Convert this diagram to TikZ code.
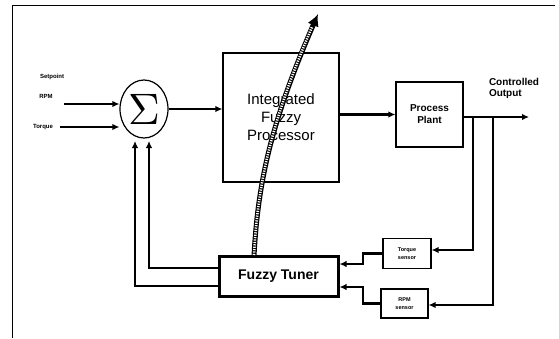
\documentclass[tikz,border=0pt]{standalone}
\usepackage{graphicx}
\usepackage{fontspec}
\setmainfont{Liberation Sans}
\usepackage{tikz}
\usetikzlibrary{arrows.meta,positioning,shapes.geometric}

\tikzset{
  blockbox/.style={draw,line width=1.2pt,align=center,inner sep=0pt},
  sensorbox/.style={draw,line width=1.2pt,align=center,inner sep=0pt,minimum width=48pt,minimum height=30pt,font=\fontsize{5.5}{8}\selectfont\bfseries},
  sig/.style={line width=2.4pt,-{Latex[length=7pt,width=6.5pt]}},
  smalllbl/.style={font=\fontsize{6}{7}\selectfont\bfseries}
}

\begin{document}
\begin{tikzpicture}[x=1pt,y=-1pt,>=Latex]
\useasboundingbox (0,0) rectangle (559,338);
% frame
\draw[line width=1pt] (12,338) -- (12,5) -- (555,5);
% blocks
\node[draw,ellipse,line width=1.2pt,minimum width=48pt,minimum height=58pt,inner sep=0pt] (sum) at (144,109) {\scalebox{4.4}{$\Sigma$}};
\node[blockbox,minimum width=116pt,minimum height=129pt,font=\fontsize{15}{18}\selectfont] (ifp) at (281,117.5) {Integrated\\Fuzzy\\Processor};
\node[blockbox,minimum width=67pt,minimum height=65pt,font=\fontsize{10}{12}\selectfont\bfseries] (plant) at (429.5,114.5) {Process\\Plant};
\node[draw,line width=3pt,minimum width=119pt,minimum height=40pt,inner sep=0pt,font=\fontsize{14}{16}\selectfont\bfseries] (tuner) at (278.5,276.5) {Fuzzy Tuner};
\node[sensorbox] (tsens) at (407,253.5) {Torque\\sensor};
\node[sensorbox,minimum width=47pt,minimum height=29pt] (rsens) at (404.5,303.5) {RPM\\sensor};
% labels
\node[smalllbl] (setp) at (52,77) {Setpoint};
\node[smalllbl] (rpm) at (46,96) {RPM};
\node[smalllbl] (torq) at (43,127) {Torque};
\node[font=\fontsize{10}{11}\selectfont\bfseries,align=left] (outlbl) at (514,88) {Controlled\\Output};
\coordinate (out) at (529,117);
% forward path
\draw[sig] (rpm.east) ++(8,8) coordinate (rpmstart) -- (rpmstart -| sum.west);
\draw[sig] (torq.east) ++(4,0) coordinate (torqstart) -- (torqstart -| sum.west);
\draw[sig] (sum.east) -- (sum.east -| ifp.west);
\draw[sig] (ifp.east |- plant.west) -- (plant.west);
\draw[sig] (plant.east |- out) -- (out);
% feedback to sensors
\draw[sig] (473,117) -- (473,250) -- (tsens.east |- 0,250);
\draw[sig] (493,117) -- (493,305) -- (rsens.east |- 0,305);
% sensors to tuner
\draw[sig] (tsens.west) -- (363,253.5) -- (363,264) -- (tuner.east |- 0,264);
\draw[sig] (rsens.west) -- (363,303.5) -- (363,287) -- (tuner.east |- 0,287);
% tuner to sum
\draw[sig] (tuner.west |- 0,268) -- (149,268) -- (149,141);
\draw[sig] (tuner.west |- 0,286) -- (135,286) -- (135,141);
% tuning arrow through the processor
\draw[line width=5pt,-{Latex[length=12pt,width=12pt]}] (254,256) .. controls (258,180) and (272,120) .. (318,14);
\draw[white,line width=2.6pt,dash pattern=on 1.2pt off 1.2pt] (254,255) .. controls (258,180) and (272,120) .. (312,27);
\end{tikzpicture}
\end{document}
